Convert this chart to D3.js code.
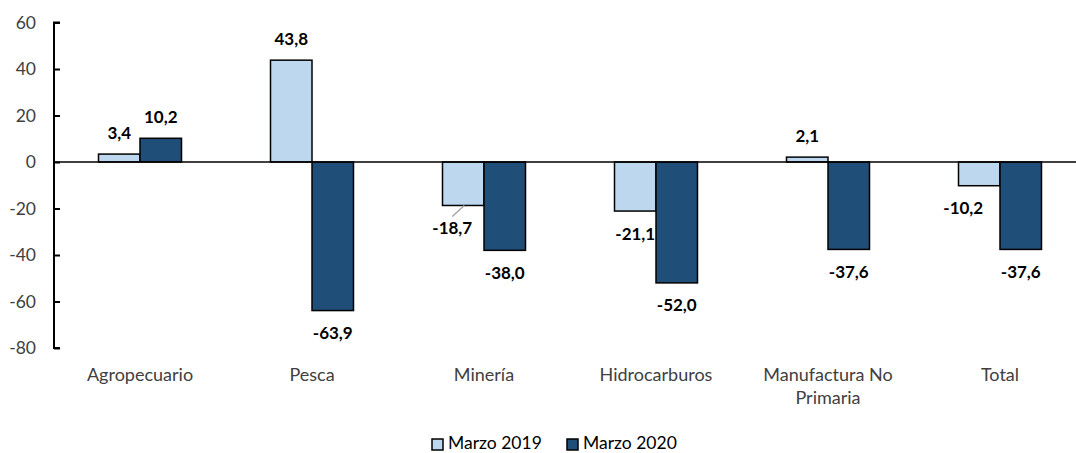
<!DOCTYPE html>
<html><head><meta charset="utf-8">
<script src="https://cdn.jsdelivr.net/npm/d3@7"></script>
<style>body{margin:0;background:#fff;} svg{display:block;}</style>
</head><body>
<svg id="chart" width="1076" height="453"></svg>
<script>
const categories = ["Agropecuario","Pesca","Minería","Hidrocarburos","Manufactura No Primaria","Total"];
const seriesNames = ["Marzo 2019","Marzo 2020"];
const marzo2019 = [3.4, 43.8, -18.7, -21.1, 2.1, -10.2];
const marzo2020 = [10.2, -63.9, -38.0, -52.0, -37.6, -37.6];
const yTicks = [60, 40, 20, 0, -20, -40, -60, -80];

const colors = ["#BDD7EE", "#1F4E79"];
const font = "Lato, 'Open Sans', sans-serif";
const fmt = v => d3.format(".1f")(v).replace(".", ",").replace("\u2212", "-");

const svg = d3.select("#chart");
const x = d3.scaleBand().domain(categories).range([54, 1086]);
const y = d3.scaleLinear().domain([-80, 60]).range([348, 22.5]);
const barW = 41.5;

// y axis
const yAxis = d3.axisLeft(y).tickValues(yTicks).tickSize(-6).tickPadding(18).tickFormat(d => String(d));
const gy = svg.append("g").attr("transform", "translate(54,0)").call(yAxis);
gy.select(".domain").attr("stroke", "#000").attr("stroke-width", 2).attr("d", `M6,${y(60)}H0V${y(-80)}H6`);
gy.selectAll(".tick line").attr("stroke", "#000").attr("stroke-width", 2);
gy.selectAll(".tick text").attr("fill", "#404040").style("font-family", font).style("font-size", "17.5px");

const series = [marzo2019, marzo2020];
// label horizontal nudges per series/category
const labelDx = [[0,0,-11,0,0,-16],[0,0,0,0,0,0]];

series.forEach((vals, si) => {
  const g = svg.append("g");
  g.selectAll("rect").data(vals).join("rect")
    .attr("x", (d, i) => x(categories[i]) + x.bandwidth() / 2 - barW + si * barW)
    .attr("width", barW)
    .attr("y", d => y(Math.max(0, d)))
    .attr("height", d => Math.abs(y(d) - y(0)))
    .attr("fill", colors[si]).attr("stroke", "#000").attr("stroke-width", 1.5);
  g.selectAll("text").data(vals).join("text")
    .attr("x", (d, i) => x(categories[i]) + x.bandwidth() / 2 - barW / 2 + si * barW + labelDx[si][i])
    .attr("y", d => d >= 0 ? y(d) - 21 : y(d) + 22.5)
    .attr("dy", "0.35em")
    .attr("text-anchor", "middle")
    .style("font-family", font).style("font-size", "17px").style("font-weight", "bold")
    .attr("fill", "#000")
    .text(d => fmt(d));
  if (si === 0) {
    const i = 2;
    const cx = x(categories[i]) + x.bandwidth() / 2 - barW / 2;
    g.append("line").attr("x1", cx - 11).attr("y1", y(vals[i]) + 11)
      .attr("x2", cx + 1).attr("y2", y(vals[i]))
      .attr("stroke", "#A6A6A6").attr("stroke-width", 1.5);
  }
});

// zero line
svg.append("line").attr("x1", 54).attr("x2", 1076).attr("y1", y(0)).attr("y2", y(0))
  .attr("stroke", "#000").attr("stroke-width", 1.5);

// category labels
const catG = svg.append("g");
categories.forEach(c => {
  const t = catG.append("text").attr("x", x(c) + x.bandwidth() / 2).attr("y", 381)
    .attr("text-anchor", "middle").attr("fill", "#404040")
    .style("font-family", font).style("font-size", "18px");
  const lines = c === "Manufactura No Primaria" ? ["Manufactura No", "Primaria"] : [c];
  lines.forEach((l, li) => t.append("tspan").attr("x", x(c) + x.bandwidth() / 2).attr("dy", li ? 22.5 : 0).text(l));
});

// legend
const legendX = [432, 567];
seriesNames.forEach((n, i) => {
  svg.append("rect").attr("x", legendX[i]).attr("y", 439).attr("width", 11).attr("height", 11)
    .attr("fill", colors[i]).attr("stroke", "#000").attr("stroke-width", 1.5);
  svg.append("text").attr("x", legendX[i] + 16).attr("y", 448.5).attr("fill", "#000")
    .style("font-family", font).style("font-size", "17.5px").text(n);
});
</script>
</body></html>
